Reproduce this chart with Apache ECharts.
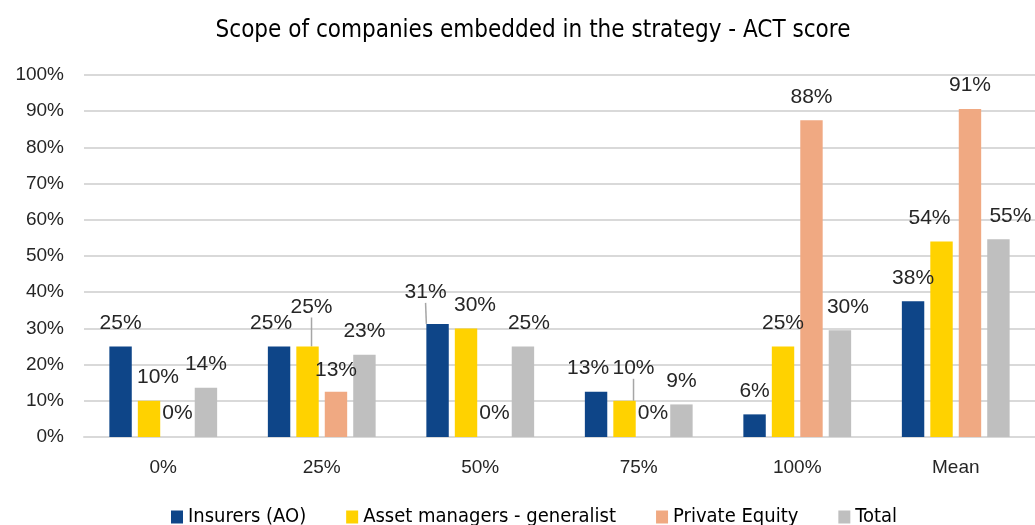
<!DOCTYPE html>
<html>
<head>
<meta charset="utf-8">
<script src="https://cdn.jsdelivr.net/npm/echarts@6/dist/echarts.min.js"></script>
<style>
  html, body { margin: 0; padding: 0; background: #fff; }
  #chart { width: 1035px; height: 525px; }
</style>
</head>
<body>
<div id="chart"></div>
<script>
// ACT score buckets
const categories = ['0%', '25%', '50%', '75%', '100%', 'Mean'];
const seriesNames = ['Insurers (AO)', 'Asset managers - generalist', 'Private Equity', 'Total'];
const insurers = [25, 25, 31.25, 12.5, 6.25, 37.5];
const assetManagers = [10, 25, 30, 10, 25, 54];
const privateEquity = [0, 12.5, 0, 0, 87.5, 90.6];
const total = [13.6, 22.7, 25, 9, 29.5, 54.6];
const yTicks = [0, 10, 20, 30, 40, 50, 60, 70, 80, 90, 100];

const colors = ['#0e4588', '#ffd200', '#f0a982', '#bfbfbf'];
const narrow = "'Liberation Sans Narrow', 'DejaVu Sans Condensed', 'Liberation Sans', sans-serif";
const plain = "'Liberation Sans', Arial, sans-serif";

// labels Excel moved by hand: series -> category -> [dx, dy, leader line?]
const labelNudge = {
  0: { 1: [-8, 0], 2: [-12, -8, true], 3: [-8, 0] },
  1: { 0: [9, 0], 1: [4, -16, true], 2: [9, 0], 3: [9, -9, true], 5: [-12, 0] },
  2: { 1: [0, 2] },
  3: { 2: [6, 0], 4: [8, 0], 5: [12, 0] }
};

const chart = echarts.init(document.getElementById('chart'));

const seriesData = [insurers, assetManagers, privateEquity, total];

chart.setOption({
  animation: false,
  title: {
    text: 'Scope of companies embedded in the strategy - ACT score',
    left: 528,
    textAlign: 'center',
    top: 14,
    textStyle: { fontFamily: narrow, fontSize: 24, fontWeight: 'normal', color: '#000' }
  },
  legend: {
    top: 502,
    left: 166,
    itemWidth: 12,
    itemHeight: 13,
    itemGap: 40,
    icon: 'rect',
    textStyle: { fontFamily: narrow, fontSize: 20, color: '#000' },
    data: seriesNames
  },
  grid: { left: 84, right: 0, top: 75, bottom: 88 },
  xAxis: {
    type: 'category',
    data: categories,
    axisTick: { show: false },
    axisLine: { lineStyle: { color: '#d9d9d9', width: 2 } },
    axisLabel: { fontFamily: plain, fontSize: 19, color: '#262626', margin: 21 }
  },
  yAxis: {
    type: 'value',
    min: yTicks[0],
    max: yTicks[yTicks.length - 1],
    interval: 10,
    axisLabel: {
      formatter: v => v + '%',
      fontFamily: plain,
      fontSize: 19,
      color: '#262626',
      margin: 20
    },
    splitLine: { lineStyle: { color: '#d9d9d9', width: 2 } }
  },
  series: seriesData.map((vals, i) => ({
    name: seriesNames[i],
    type: 'bar',
    data: vals.map((v, j) => {
      const n = labelNudge[i] && labelNudge[i][j];
      return n && n[2] ? { value: v, labelLine: { show: true } } : v;
    }),
    barGap: '27%',
    barCategoryGap: '32%',
    itemStyle: { color: colors[i] },
    label: {
      show: true,
      position: 'top',
      distance: 13,
      formatter: p => Math.round(p.value) + '%',
      fontFamily: plain,
      fontSize: 21,
      color: '#262626'
    },
    labelLine: { show: false, lineStyle: { color: '#a6a6a6', width: 1.5 } },
    labelLayout: p => {
      const n = labelNudge[i] && labelNudge[i][p.dataIndex];
      return n ? { dx: n[0], dy: n[1] } : {};
    }
  }))
});
</script>
</body>
</html>
